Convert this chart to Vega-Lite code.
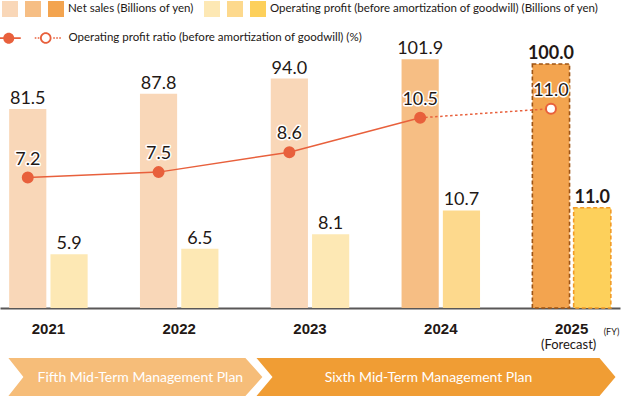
{
  "$schema": "https://vega.github.io/schema/vega-lite/v6.json",
  "width": 620,
  "height": 308,
  "autosize": {"type": "none"},
  "padding": {"left": 0, "top": 0, "right": 3, "bottom": 89},
  "background": "white",
  "config": {"view": {"stroke": null}, "font": "Lato", "text": {"font": "Lato", "color": "#231815"}},
  "data": {
    "values": [
      {"Fiscal year": "2021", "Measure": "Net sales", "Status": "Results", "Bar": "Net sales – results", "Value": 81.5},
      {"Fiscal year": "2022", "Measure": "Net sales", "Status": "Results", "Bar": "Net sales – results", "Value": 87.8},
      {"Fiscal year": "2023", "Measure": "Net sales", "Status": "Results", "Bar": "Net sales – results", "Value": 94.0},
      {"Fiscal year": "2024", "Measure": "Net sales", "Status": "Latest results", "Bar": "Net sales – latest results", "Value": 101.9},
      {"Fiscal year": "2025", "Measure": "Net sales", "Status": "Forecast", "Bar": "Net sales – forecast", "Value": 100.0},
      {"Fiscal year": "2021", "Measure": "Operating profit", "Status": "Results", "Bar": "Operating profit – results", "Value": 5.9},
      {"Fiscal year": "2022", "Measure": "Operating profit", "Status": "Results", "Bar": "Operating profit – results", "Value": 6.5},
      {"Fiscal year": "2023", "Measure": "Operating profit", "Status": "Results", "Bar": "Operating profit – results", "Value": 8.1},
      {"Fiscal year": "2024", "Measure": "Operating profit", "Status": "Latest results", "Bar": "Operating profit – latest results", "Value": 10.7},
      {"Fiscal year": "2025", "Measure": "Operating profit", "Status": "Forecast", "Bar": "Operating profit – forecast", "Value": 11.0},
      {"Fiscal year": "2021", "Measure": "Operating profit ratio", "Status": "Results", "Value": 7.2},
      {"Fiscal year": "2022", "Measure": "Operating profit ratio", "Status": "Results", "Value": 7.5},
      {"Fiscal year": "2023", "Measure": "Operating profit ratio", "Status": "Results", "Value": 8.6},
      {"Fiscal year": "2024", "Measure": "Operating profit ratio", "Status": "Results", "Value": 10.5},
      {"Fiscal year": "2025", "Measure": "Operating profit ratio", "Status": "Forecast", "Value": 11.0},
      {"Fiscal year": "2021", "Measure": "Mid-Term Management Plan", "Plan": "Fifth Mid-Term Management Plan"},
      {"Fiscal year": "2023", "Measure": "Mid-Term Management Plan", "Plan": "Sixth Mid-Term Management Plan"}
    ]
  },
  "encoding": {
    "x": {
      "field": "Fiscal year",
      "type": "ordinal",
      "scale": {"domain": ["2021", "2022", "2023", "2024", "2025"], "paddingInner": 0.4, "paddingOuter": 0.07},
      "axis": {
        "title": "(FY)",
        "titleFont": "Lato",
        "titleFontSize": 9,
        "titleFontWeight": "normal",
        "titleColor": "#231815",
        "titleX": 611,
        "titleY": 26,
        "titleAlign": "center",
        "titleBaseline": "alphabetic",
        "labelFont": "Liberation Sans",
        "labelFontSize": 15,
        "labelFontWeight": "bold",
        "labelColor": "#231815",
        "labelPadding": 13,
        "labelAngle": 0,
        "ticks": false,
        "grid": false,
        "domainColor": "#595757",
        "domainWidth": 2
      }
    }
  },
  "layer": [
    {
      "transform": [{"filter": "datum['Plan'] == 'Fifth Mid-Term Management Plan'"}],
      "mark": {"type": "point", "filled": true, "opacity": 1, "size": 4, "strokeWidth": 0, "color": "#F6BD79", "shape": "M-40,204L197,204L214,223L197,242L-40,242L-25,223Z"},
      "encoding": {}
    },
    {
      "transform": [{"filter": "datum['Plan'] == 'Sixth Mid-Term Management Plan'"}],
      "mark": {"type": "point", "filled": true, "opacity": 1, "size": 4, "strokeWidth": 0, "color": "#F09D34", "shape": "M-53.5,204L289.5,204L305.5,223L289.5,242L-53.5,242L-37.5,223Z"},
      "encoding": {}
    },
    {
      "transform": [{"filter": "datum['Plan'] == 'Fifth Mid-Term Management Plan'"}],
      "mark": {"type": "text", "color": "white", "fontSize": 14, "dx": 92, "dy": 224, "baseline": "middle", "align": "center"},
      "encoding": {"text": {"field": "Plan", "type": "nominal"}}
    },
    {
      "transform": [{"filter": "datum['Plan'] == 'Sixth Mid-Term Management Plan'"}],
      "mark": {"type": "text", "color": "white", "fontSize": 14, "dx": 118.5, "dy": 224, "baseline": "middle", "align": "center"},
      "encoding": {"text": {"field": "Plan", "type": "nominal"}}
    },
    {
      "transform": [{"filter": "datum['Measure'] == 'Net sales' && datum['Status'] == 'Forecast'"}],
      "mark": {"type": "text", "fontSize": 13, "dx": -3, "dy": 191, "baseline": "middle", "align": "center"},
      "encoding": {"text": {"value": "(Forecast)"}}
    },
    {
      "transform": [{"filter": "datum['Measure'] == 'Net sales'"}],
      "mark": {"type": "bar", "strokeDash": [4, 2.5], "strokeWidth": 1.6},
      "encoding": {
        "xOffset": {"field": "Measure", "type": "nominal", "scale": {"domain": ["Net sales", "Operating profit"], "paddingInner": 0.1, "paddingOuter": 0}},
        "y": {"field": "Value", "type": "quantitative", "scale": {"domain": [0, 126.2], "nice": false, "zero": true}, "axis": null},
        "color": {
          "field": "Bar",
          "type": "nominal",
          "scale": {"domain": ["Net sales – results", "Net sales – latest results", "Net sales – forecast"], "range": ["#F9D7B8", "#F6BE84", "#F3A44F"]},
          "legend": {
            "orient": "none",
            "legendX": 1,
            "legendY": 0,
            "direction": "horizontal",
            "title": null,
            "padding": 0,
            "symbolType": "square",
            "symbolSize": 256,
            "symbolStrokeWidth": 1.5,
            "symbolOpacity": 1,
            "labelExpr": "datum.value == 'Net sales – forecast' ? 'Net sales (Billions of yen)' : ''",
            "labelOffset": 3,
            "columnPadding": 0,
            "labelFont": "Lato",
            "labelFontSize": 11.5,
            "labelColor": "#231815",
            "labelLimit": 500
          }
        },
        "stroke": {"condition": {"test": "datum['Status'] == 'Forecast'", "value": "#9E5414"}, "value": "transparent"}
      }
    },
    {
      "transform": [{"filter": "datum['Measure'] == 'Net sales' && datum['Status'] != 'Forecast'"}],
      "mark": {"type": "text", "fontSize": 18, "dy": -5, "baseline": "alphabetic", "align": "center"},
      "encoding": {
        "xOffset": {"field": "Measure", "type": "nominal"},
        "y": {"field": "Value", "type": "quantitative", "scale": {"domain": [0, 126.2], "nice": false, "zero": true}, "axis": null},
        "text": {"field": "Value", "type": "quantitative", "format": ".1f"}
      }
    },
    {
      "transform": [{"filter": "datum['Measure'] == 'Net sales' && datum['Status'] == 'Forecast'"}],
      "mark": {"type": "text", "fontSize": 18, "fontWeight": "bold", "dy": -5, "baseline": "alphabetic", "align": "center"},
      "encoding": {
        "xOffset": {"field": "Measure", "type": "nominal"},
        "y": {"field": "Value", "type": "quantitative", "scale": {"domain": [0, 126.2], "nice": false, "zero": true}, "axis": null},
        "text": {"field": "Value", "type": "quantitative", "format": ".1f"}
      }
    },
    {
      "transform": [{"filter": "datum['Measure'] == 'Operating profit'"}],
      "mark": {"type": "bar", "strokeDash": [4, 2.5], "strokeWidth": 1.6},
      "encoding": {
        "xOffset": {"field": "Measure", "type": "nominal"},
        "y": {"field": "Value", "type": "quantitative", "scale": {"domain": [0, 33.8], "nice": false, "zero": true}, "axis": null},
        "fill": {
          "field": "Bar",
          "type": "nominal",
          "scale": {"domain": ["Operating profit – results", "Operating profit – latest results", "Operating profit – forecast"], "range": ["#FDE8B4", "#FDD98D", "#FDD05B"]},
          "legend": {
            "orient": "none",
            "legendX": 203,
            "legendY": 0,
            "direction": "horizontal",
            "title": null,
            "padding": 0,
            "symbolType": "square",
            "symbolSize": 256,
            "symbolStrokeWidth": 1.5,
            "symbolOpacity": 1,
            "labelExpr": "datum.value == 'Operating profit – forecast' ? 'Operating profit (before amortization of goodwill) (Billions of yen)' : ''",
            "labelOffset": 3,
            "columnPadding": 0,
            "labelFont": "Lato",
            "labelFontSize": 11.5,
            "labelColor": "#231815",
            "labelLimit": 500
          }
        },
        "stroke": {"condition": {"test": "datum['Status'] == 'Forecast'", "value": "#F19A26"}, "value": "transparent"}
      }
    },
    {
      "transform": [{"filter": "datum['Measure'] == 'Operating profit' && datum['Status'] != 'Forecast'"}],
      "mark": {"type": "text", "fontSize": 18, "dy": -5, "baseline": "alphabetic", "align": "center"},
      "encoding": {
        "xOffset": {"field": "Measure", "type": "nominal"},
        "y": {"field": "Value", "type": "quantitative", "scale": {"domain": [0, 33.8], "nice": false, "zero": true}, "axis": null},
        "text": {"field": "Value", "type": "quantitative", "format": ".1f"}
      }
    },
    {
      "transform": [{"filter": "datum['Measure'] == 'Operating profit' && datum['Status'] == 'Forecast'"}],
      "mark": {"type": "text", "fontSize": 18, "fontWeight": "bold", "dy": -5, "baseline": "alphabetic", "align": "center"},
      "encoding": {
        "xOffset": {"field": "Measure", "type": "nominal"},
        "y": {"field": "Value", "type": "quantitative", "scale": {"domain": [0, 33.8], "nice": false, "zero": true}, "axis": null},
        "text": {"field": "Value", "type": "quantitative", "format": ".1f"}
      }
    },
    {
      "transform": [{"filter": "datum['Measure'] == 'Operating profit ratio' && datum['Status'] == 'Results'"}],
      "mark": {"type": "line", "color": "#E8603C", "strokeWidth": 1.5},
      "encoding": {
        "x": {"field": "Fiscal year", "type": "ordinal", "bandPosition": 0.237},
        "y": {"field": "Value", "type": "quantitative", "scale": {"domain": [0, 17.0], "nice": false, "zero": true}, "axis": null}
      }
    },
    {
      "transform": [{"filter": "datum['Measure'] == 'Operating profit ratio' && (datum['Fiscal year'] == '2024' || datum['Fiscal year'] == '2025')"}],
      "mark": {"type": "line", "color": "#E8603C", "strokeWidth": 1.5, "strokeDash": [2.5, 2.5]},
      "encoding": {
        "x": {"field": "Fiscal year", "type": "ordinal", "bandPosition": 0.237},
        "y": {"field": "Value", "type": "quantitative", "scale": {"domain": [0, 17.0], "nice": false, "zero": true}, "axis": null}
      }
    },
    {
      "transform": [{"filter": "datum['Measure'] == 'Operating profit ratio'"}],
      "mark": {"type": "point", "filled": true, "size": 0.01, "strokeWidth": 0, "opacity": 1, "color": "#E8603C"},
      "encoding": {
        "x": {"field": "Fiscal year", "type": "ordinal", "bandPosition": 0.237},
        "y": {"field": "Value", "type": "quantitative", "scale": {"domain": [0, 17.0], "nice": false, "zero": true}, "axis": null},
        "shape": {
          "field": "Status",
          "type": "nominal",
          "scale": {
            "domain": ["Results", "Forecast"],
            "range": [
              "M-9,-0.8H12V0.8H-9ZM5.5,0A5.5,5.5 0 1,1 -5.5,0A5.5,5.5 0 1,1 5.5,0Z",
              "M-11,-0.8h1.6v1.6h-1.6ZM-8,-0.8h1.6v1.6h-1.6ZM5.8,0A5.8,5.8 0 1,1 -5.8,0A5.8,5.8 0 1,1 5.8,0ZM4,0A4,4 0 1,0 -4,0A4,4 0 1,0 4,0ZM7.5,-0.8h1.6v1.6h-1.6ZM10.5,-0.8h1.6v1.6h-1.6ZM13.5,-0.8h1.6v1.6h-1.6Z"
            ]
          },
          "legend": {
            "orient": "none",
            "legendX": 3,
            "legendY": 32,
            "direction": "horizontal",
            "title": null,
            "padding": 0,
            "symbolSize": 4,
            "symbolStrokeWidth": 0,
            "symbolOpacity": 1,
            "symbolFillColor": "#E8603C",
            "labelExpr": "datum.value == 'Forecast' ? 'Operating profit ratio (before amortization of goodwill) (%)' : ''",
            "labelOffset": 17,
            "columnPadding": 2,
            "labelFont": "Lato",
            "labelFontSize": 11.5,
            "labelColor": "#231815",
            "labelLimit": 500
          }
        }
      }
    },
    {
      "transform": [{"filter": "datum['Measure'] == 'Operating profit ratio'"}],
      "mark": {"type": "point", "filled": true, "size": 100, "strokeWidth": 2, "opacity": 1},
      "encoding": {
        "x": {"field": "Fiscal year", "type": "ordinal", "bandPosition": 0.237},
        "y": {"field": "Value", "type": "quantitative", "scale": {"domain": [0, 17.0], "nice": false, "zero": true}, "axis": null},
        "fill": {"condition": {"test": "datum['Status'] == 'Forecast'", "value": "white"}, "value": "#E8603C"},
        "stroke": {"value": "#E8603C"}
      }
    },
    {
      "transform": [{"filter": "datum['Measure'] == 'Operating profit ratio'"}],
      "mark": {"type": "text", "fontSize": 18, "dy": -13, "baseline": "alphabetic", "align": "center", "stroke": "white", "strokeWidth": 3, "strokeJoin": "round", "fill": "white"},
      "encoding": {
        "x": {"field": "Fiscal year", "type": "ordinal", "bandPosition": 0.237},
        "y": {"field": "Value", "type": "quantitative", "scale": {"domain": [0, 17.0], "nice": false, "zero": true}, "axis": null},
        "text": {"field": "Value", "type": "quantitative", "format": ".1f"}
      }
    },
    {
      "transform": [{"filter": "datum['Measure'] == 'Operating profit ratio'"}],
      "mark": {"type": "text", "fontSize": 18, "dy": -13, "baseline": "alphabetic", "align": "center"},
      "encoding": {
        "x": {"field": "Fiscal year", "type": "ordinal", "bandPosition": 0.237},
        "y": {"field": "Value", "type": "quantitative", "scale": {"domain": [0, 17.0], "nice": false, "zero": true}, "axis": null},
        "text": {"field": "Value", "type": "quantitative", "format": ".1f"}
      }
    }
  ],
  "resolve": {"scale": {"y": "independent"}}
}
